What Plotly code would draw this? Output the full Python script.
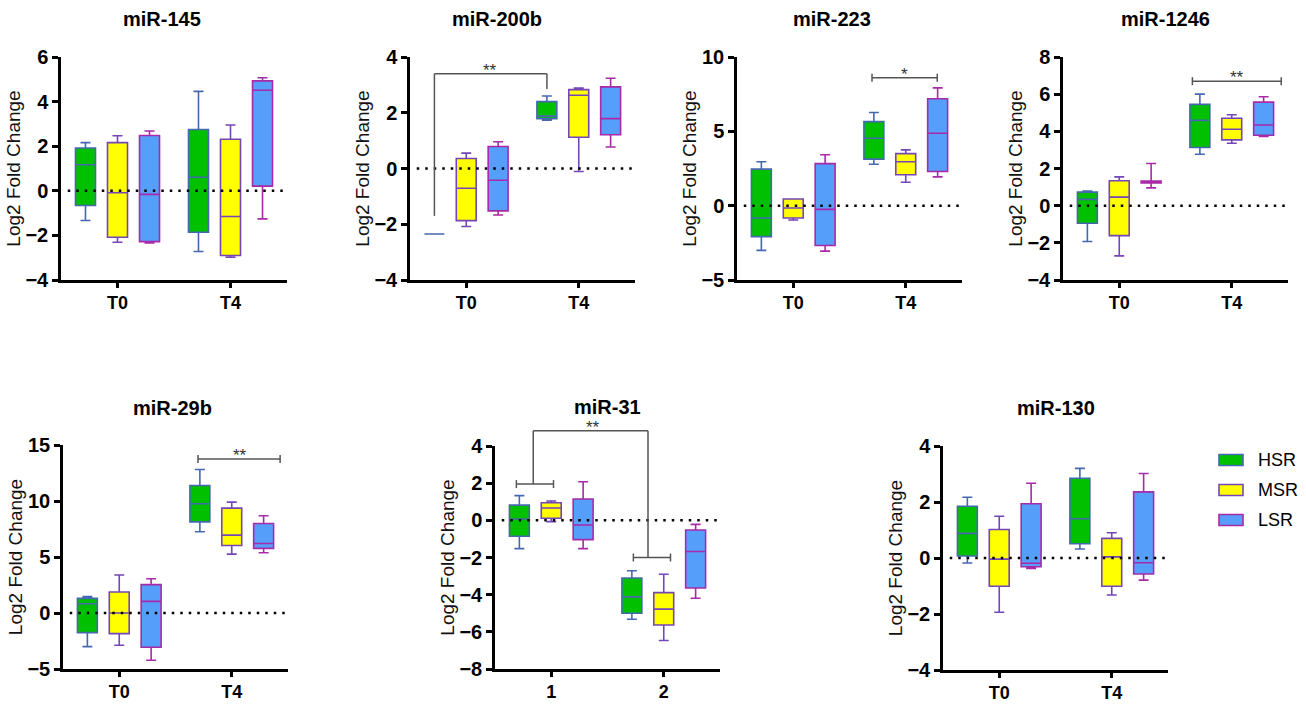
import plotly.graph_objects as go

W, H = 1306, 704
FONT = "Arial, Liberation Sans, sans-serif"

series = ["HSR", "MSR", "LSR"]
fill_colors = {"HSR": "#00c000", "MSR": "#ffff00", "LSR": "#559ffa"}
line_colors = {"HSR": "#4668b0", "MSR": "#7446b8", "LSR": "#a82aa8"}

timepoints = ["T0", "T4"]
groups_31 = ["1", "2"]

# ---- data: per panel, per series: [T0 values, T4 values] as (low, q1, median, q3, high)
mir145_low = {"HSR": [-1.33, -2.72], "MSR": [-2.31, -2.98], "LSR": [-2.34, -1.26]}
mir145_q1 = {"HSR": [-0.66, -1.86], "MSR": [-2.08, -2.90], "LSR": [-2.28, 0.21]}
mir145_med = {"HSR": [1.17, 0.61], "MSR": [-0.09, -1.15], "LSR": [-0.16, 4.51]}
mir145_q3 = {"HSR": [1.92, 2.75], "MSR": [2.16, 2.31], "LSR": [2.48, 4.93]}
mir145_high = {"HSR": [2.16, 4.46], "MSR": [2.47, 2.95], "LSR": [2.68, 5.07]}

mir200b_low = {"HSR": [-2.35, 1.73], "MSR": [-2.08, -0.11], "LSR": [-1.67, 0.77]}
mir200b_q1 = {"HSR": [-2.35, 1.79], "MSR": [-1.87, 1.12], "LSR": [-1.52, 1.21]}
mir200b_med = {"HSR": [-2.35, 1.88], "MSR": [-0.71, 2.63], "LSR": [-0.42, 1.79]}
mir200b_q3 = {"HSR": [-2.35, 2.40], "MSR": [0.36, 2.83], "LSR": [0.79, 2.93]}
mir200b_high = {"HSR": [-2.35, 2.60], "MSR": [0.55, 2.89], "LSR": [0.96, 3.24]}

mir223_low = {"HSR": [-3.01, 2.79], "MSR": [-0.96, 1.58], "LSR": [-3.06, 1.94]}
mir223_q1 = {"HSR": [-2.08, 3.13], "MSR": [-0.83, 2.08], "LSR": [-2.68, 2.30]}
mir223_med = {"HSR": [-0.83, 4.53], "MSR": [-0.16, 2.95], "LSR": [-0.25, 4.87]}
mir223_q3 = {"HSR": [2.46, 5.65], "MSR": [0.45, 3.50], "LSR": [2.83, 7.19]}
mir223_high = {"HSR": [2.95, 6.27], "MSR": [0.45, 3.75], "LSR": [3.42, 7.92]}

mir1246_low = {"HSR": [-1.93, 2.77], "MSR": [-2.70, 3.36], "LSR": [0.96, 3.73]}
mir1246_q1 = {"HSR": [-0.95, 3.13], "MSR": [-1.61, 3.54], "LSR": [1.22, 3.79]}
mir1246_med = {"HSR": [0.34, 4.59], "MSR": [0.46, 4.11], "LSR": [1.28, 4.34]}
mir1246_q3 = {"HSR": [0.73, 5.45], "MSR": [1.34, 4.70], "LSR": [1.32, 5.57]}
mir1246_high = {"HSR": [0.79, 6.00], "MSR": [1.55, 4.89], "LSR": [2.27, 5.86]}

mir29b_low = {"HSR": [-3.00, 7.25], "MSR": [-2.88, 5.26], "LSR": [-4.22, 5.38]}
mir29b_q1 = {"HSR": [-1.75, 8.14], "MSR": [-1.84, 6.03], "LSR": [-3.06, 5.77]}
mir29b_med = {"HSR": [0.83, 9.75], "MSR": [0.00, 6.95], "LSR": [1.04, 6.21]}
mir29b_q3 = {"HSR": [1.31, 11.38], "MSR": [1.87, 9.36], "LSR": [2.53, 7.99]}
mir29b_high = {"HSR": [1.46, 12.81], "MSR": [3.39, 9.90], "LSR": [3.06, 8.68]}

mir31_low = {"HSR": [-1.52, -5.32], "MSR": [-0.07, -6.47], "LSR": [-1.52, -4.19]}
mir31_q1 = {"HSR": [-0.86, -5.00], "MSR": [0.11, -5.63], "LSR": [-1.04, -3.64]}
mir31_med = {"HSR": [0.07, -4.12], "MSR": [0.66, -4.78], "LSR": [-0.25, -1.68]}
mir31_q3 = {"HSR": [0.82, -3.10], "MSR": [0.95, -3.89], "LSR": [1.15, -0.52]}
mir31_high = {"HSR": [1.33, -2.71], "MSR": [1.04, -2.90], "LSR": [2.08, -0.22]}

mir130_low = {"HSR": [-0.18, 0.32], "MSR": [-1.94, -1.32], "LSR": [-0.37, -0.79]}
mir130_q1 = {"HSR": [0.07, 0.51], "MSR": [-1.01, -1.01], "LSR": [-0.31, -0.57]}
mir130_med = {"HSR": [0.88, 1.40], "MSR": [-0.04, 0.04], "LSR": [-0.19, -0.17]}
mir130_q3 = {"HSR": [1.85, 2.85], "MSR": [1.02, 0.70], "LSR": [1.94, 2.36]}
mir130_high = {"HSR": [2.17, 3.20], "MSR": [1.49, 0.90], "LSR": [2.67, 3.02]}

panels = [
    dict(title="miR-145", cats=timepoints, yr=[-4, 6], dt=2, d=(mir145_low, mir145_q1, mir145_med, mir145_q3, mir145_high),
         xpx=(61, 287), ypx=(57, 280), tpx=(162, 19)),
    dict(title="miR-200b", cats=timepoints, yr=[-4, 4], dt=2, d=(mir200b_low, mir200b_q1, mir200b_med, mir200b_q3, mir200b_high),
         xpx=(410, 635), ypx=(57, 280), tpx=(497, 19)),
    dict(title="miR-223", cats=timepoints, yr=[-5, 10], dt=5, d=(mir223_low, mir223_q1, mir223_med, mir223_q3, mir223_high),
         xpx=(737, 962), ypx=(57, 280), tpx=(832, 19)),
    dict(title="miR-1246", cats=timepoints, yr=[-4, 8], dt=2, d=(mir1246_low, mir1246_q1, mir1246_med, mir1246_q3, mir1246_high),
         xpx=(1063, 1288), ypx=(57, 280), tpx=(1165, 19)),
    dict(title="miR-29b", cats=timepoints, yr=[-5, 15], dt=5, d=(mir29b_low, mir29b_q1, mir29b_med, mir29b_q3, mir29b_high),
         xpx=(63, 288), ypx=(445, 669), tpx=(172, 408)),
    dict(title="miR-31", cats=groups_31, yr=[-8, 4], dt=2, d=(mir31_low, mir31_q1, mir31_med, mir31_q3, mir31_high),
         xpx=(495, 720), ypx=(446, 669), tpx=(607, 407)),
    dict(title="miR-130", cats=timepoints, yr=[-4, 4], dt=2, d=(mir130_low, mir130_q1, mir130_med, mir130_q3, mir130_high),
         xpx=(943, 1168), ypx=(446, 670), tpx=(1056, 408)),
]

# significance brackets: (panel index, polylines [(x, y)...], end caps?, label, label position)
brackets = [
    (1, [[(-0.283, -1.7), (-0.283, 3.4), (0.717, 3.4), (0.717, 2.85)]], False, "**", (0.21, 3.4)),
    (2, [[(0.70, 8.6), (1.28, 8.6)]], True, "*", (0.99, 8.6)),
    (3, [[(0.65, 6.7), (1.44, 6.7)]], True, "**", (1.05, 6.7)),
    (4, [[(0.70, 13.75), (1.43, 13.75)]], True, "**", (1.07, 13.75)),
    (5, [[(-0.31, 1.95), (0.02, 1.95)], [(0.73, -2.0), (1.06, -2.0)]], True, None, None),
    (5, [[(-0.16, 1.95), (-0.16, 4.82), (0.86, 4.82), (0.86, -2.0)]], False, "**", (0.37, 4.82)),
]

fig = go.Figure()
layout = {}
shapes = []
annotations = []

for i, p in enumerate(panels):
    n = "" if i == 0 else str(i + 1)
    xa, ya = "x" + n, "y" + n
    low, q1, med, q3, high = p["d"]
    for s in series:
        fig.add_trace(go.Box(
            x=p["cats"], lowerfence=low[s], q1=q1[s], median=med[s], q3=q3[s], upperfence=high[s],
            name=s, offsetgroup=s, fillcolor=fill_colors[s],
            line=dict(color=line_colors[s], width=1.6), whiskerwidth=0.5,
            boxpoints=False, showlegend=False, hoverinfo="skip",
            xaxis=xa, yaxis=ya))
    x0, x1 = p["xpx"]
    y0, y1 = p["ypx"]
    layout["xaxis" + n] = dict(
        domain=[x0 / W, x1 / W], anchor=ya, type="category", categoryorder="array",
        categoryarray=p["cats"], range=[-0.5, 1.5], showline=True, linecolor="black", linewidth=2.5,
        ticks="outside", ticklen=5, tickwidth=2.5, tickcolor="black", showgrid=False, zeroline=False,
        tickfont=dict(family=FONT, size=18, color="black", weight="bold"), automargin=False, fixedrange=True)
    layout["yaxis" + n] = dict(
        domain=[1 - y1 / H, 1 - y0 / H], anchor=xa, range=p["yr"], dtick=p["dt"], tick0=0,
        showline=True, linecolor="black", linewidth=2.5, ticks="outside", ticklen=6, tickwidth=2.5,
        tickcolor="black", showgrid=False, zeroline=False,
        tickfont=dict(family=FONT, size=20, color="black", weight="bold"),
        title=dict(text="Log2 Fold Change", font=dict(family=FONT, size=19, color="#111111"), standoff=0),
        automargin=False, fixedrange=True)
    # dotted zero line
    shapes.append(dict(type="line", xref=xa + " domain", yref=ya, x0=0.03, x1=1, y0=0, y1=0,
                       line=dict(color="black", width=2.5, dash="2.5px,6px")))
    annotations.append(dict(text="<b>%s</b>" % p["title"], x=p["tpx"][0] / W, y=1 - p["tpx"][1] / H,
                            xref="paper", yref="paper", showarrow=False, xanchor="center", yanchor="middle",
                            font=dict(family=FONT, size=20, color="black")))


def yfrac(i, y):
    lo, hi = panels[i]["yr"]
    return (y - lo) / (hi - lo)


BR_COLOR = "#555555"
for (pi, lines, caps, label, lpos) in brackets:
    n = "" if pi == 0 else str(pi + 1)
    xa, ya = "x" + n, "y" + n
    for pts in lines:
        for (xa0, ya0), (xa1, ya1) in zip(pts[:-1], pts[1:]):
            shapes.append(dict(type="line", xref=xa, yref=ya + " domain", x0=xa0, x1=xa1,
                               y0=yfrac(pi, ya0), y1=yfrac(pi, ya1), line=dict(color=BR_COLOR, width=1.5)))
        if caps:
            for (cx, cy) in (pts[0], pts[-1]):
                shapes.append(dict(type="line", xref=xa, yref=ya + " domain", ysizemode="pixel",
                                   yanchor=yfrac(pi, cy), x0=cx, x1=cx, y0=-4, y1=4,
                                   line=dict(color=BR_COLOR, width=1.5)))
    if label:
        annotations.append(dict(text=label, x=lpos[0], y=yfrac(pi, lpos[1]), xref=xa, yref=ya + " domain",
                                showarrow=False, xanchor="center", yanchor="bottom", yshift=-8,
                                font=dict(family=FONT, size=17, color="#333333")))

# legend (drawn)
legend_rows_px = [460, 490, 520]
for s, cy in zip(series, legend_rows_px):
    shapes.append(dict(type="rect", xref="paper", yref="paper", x0=1219 / W, x1=1243 / W,
                       y0=1 - (cy + 5.5) / H, y1=1 - (cy - 5.5) / H, fillcolor=fill_colors[s],
                       line=dict(color=line_colors[s], width=1.6)))
    annotations.append(dict(text=s, x=1256 / W, y=1 - cy / H, xref="paper", yref="paper", showarrow=False,
                            xanchor="left", yanchor="middle", font=dict(family=FONT, size=18, color="black")))

fig.update_layout(
    width=W, height=H, margin=dict(l=0, r=0, t=0, b=0), plot_bgcolor="white", paper_bgcolor="white",
    boxmode="group", boxgap=0.15, boxgroupgap=0.375, shapes=shapes, annotations=annotations,
    showlegend=False, font=dict(family=FONT), **layout)

fig.write_html("out.html", config={"displayModeBar": False},
               post_script="document.body.style.margin='0px';document.body.style.overflow='hidden';")
